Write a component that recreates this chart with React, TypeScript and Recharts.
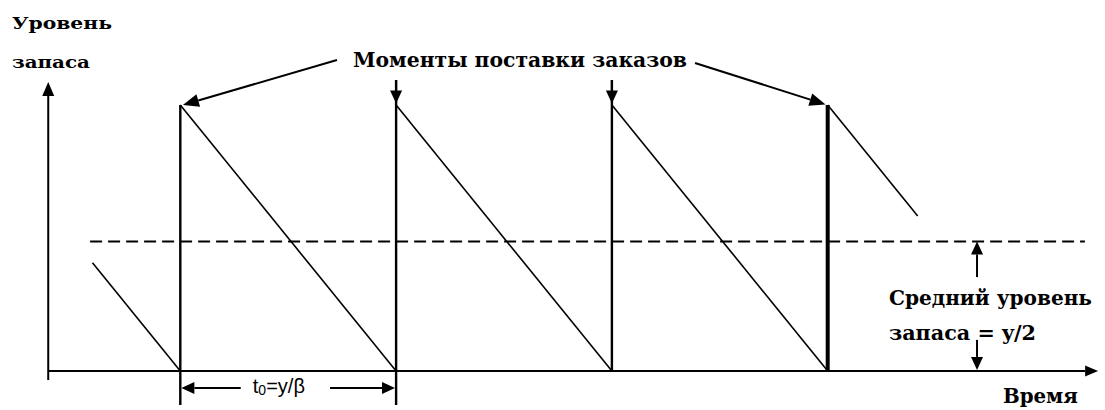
import { ComposedChart, XAxis, YAxis, Line, ReferenceLine, ReferenceDot } from 'recharts'

// time is counted in order cycles (t0 = 1), stock level as a share of the order size y
const toothStartTime = [0.593, 1, 2, 3, 4]
const toothStartLevel = [0.407, 1, 1, 1, 1]
const toothEndTime = [1, 2, 3, 4, 4.417]
const toothEndLevel = [0, 0, 0, 0, 0.583]

const deliveryTimes = [1, 2, 3, 4]
const deliveryBottom = [-0.128, -0.128, 0, 0]
const deliveryTop = [1, 1.094, 1.094, 1]

const averageLevel = 0.487
const averageFrom = 0.582
const averageTo = 5.192

// axes drawn as arrows
const axisTime = 0.388
const axisTimeEnd = 5.253
const axisLevelBottom = -0.034
const axisLevelTop = 1.086

// annotation arrows: [fromT, fromLevel, toT, toLevel]
const arrows: number[][] = [
  [1.726, 1.169, 1.012, 1.0],
  [3.385, 1.158, 3.99, 1.002],
  [2, 1.094, 2, 1.006],
  [3, 1.094, 3, 1.006],
  [4.692, 0.353, 4.692, 0.487],
  [4.692, 0.117, 4.692, 0.004],
  [1.28, -0.064, 1.005, -0.064],
  [1.694, -0.064, 1.995, -0.064],
]

const labels = ['Уровень', 'запаса', 'Моменты поставки заказов', 'Средний уровень', 'запаса = y/2', 'Время']
const labelTime = [0.22, 0.22, 1.8, 4.284, 4.284, 4.812]
const labelLevel = [1.286, 1.138, 1.143, 0.248, 0.117, -0.121]
const labelWidth = [100, 78, 334, 203, 147, 75]
const labelSize = [17, 16, 21, 20, 20, 20]

const periodLabelTime = 1.336
const periodLabelLevel = -0.084

const teeth = toothStartTime.map((t, i) => [
  { t, level: toothStartLevel[i] },
  { t: toothEndTime[i], level: toothEndLevel[i] },
])

function ArrowShape(props: any) {
  const { x1, y1, x2, y2, head = 14, half = 5.5, sw = 2 } = props
  const a = Math.atan2(y2 - y1, x2 - x1)
  const bx = x2 - head * Math.cos(a)
  const by = y2 - head * Math.sin(a)
  const px = -Math.sin(a) * half
  const py = Math.cos(a) * half
  return (
    <g>
      <line x1={x1} y1={y1} x2={bx} y2={by} stroke="#000" strokeWidth={sw} />
      <polygon points={`${x2},${y2} ${bx + px},${by + py} ${bx - px},${by - py}`} fill="#000" />
    </g>
  )
}

const serif = "'DejaVu Serif', 'Liberation Serif', serif"

export default function App() {
  return (
    <div style={{ width: 1105, height: 410, background: '#fff' }}>
      <style>{'body{margin:0}'}</style>
      <ComposedChart width={1105} height={410} margin={{ top: 0, right: 0, bottom: 0, left: 0 }}>
        <XAxis dataKey="t" type="number" domain={[0.1645, 5.285]} allowDataOverflow hide />
        <YAxis type="number" domain={[-0.1466, 1.3947]} allowDataOverflow hide />

        <ReferenceLine
          segment={[{ x: averageFrom, y: averageLevel }, { x: averageTo, y: averageLevel }]}
          stroke="#000"
          strokeWidth={2}
          strokeDasharray="12 6"
        />

        <ReferenceLine
          segment={[{ x: axisTime, y: 0 }, { x: axisTimeEnd, y: 0 }]}
          shape={(p: any) => <ArrowShape {...p} head={13} half={5.5} />}
        />
        <ReferenceLine
          segment={[{ x: axisTime, y: axisLevelBottom }, { x: axisTime, y: axisLevelTop }]}
          shape={(p: any) => <ArrowShape {...p} head={14} half={6} />}
        />

        {deliveryTimes.map((t, i) => (
          <ReferenceLine
            key={'d' + t}
            segment={[{ x: t, y: deliveryBottom[i] }, { x: t, y: deliveryTop[i] }]}
            stroke="#000"
            strokeWidth={i === deliveryTimes.length - 1 ? 4 : 2.4}
          />
        ))}

        {teeth.map((d, i) => (
          <Line
            key={'tooth' + i}
            data={d}
            dataKey="level"
            type="linear"
            stroke="#000"
            strokeWidth={1.6}
            dot={false}
            activeDot={false}
            isAnimationActive={false}
          />
        ))}

        {arrows.map((a, i) => (
          <ReferenceLine
            key={'a' + i}
            segment={[{ x: a[0], y: a[1] }, { x: a[2], y: a[3] }]}
            shape={(p: any) => <ArrowShape {...p} head={i < 2 ? 16 : 13} half={i < 2 ? 6.5 : 6} />}
          />
        ))}

        {labels.map((txt, i) => (
          <ReferenceDot
            key={'l' + i}
            x={labelTime[i]}
            y={labelLevel[i]}
            r={0}
            shape={(p: any) => (
              <text
                x={p.cx}
                y={p.cy}
                style={{ fontFamily: serif, fontWeight: 700, fontSize: labelSize[i] }}
                textLength={labelWidth[i]}
                lengthAdjust="spacingAndGlyphs"
                fill="#000"
              >
                {txt}
              </text>
            )}
          />
        ))}

        <ReferenceDot
          x={periodLabelTime}
          y={periodLabelLevel}
          r={0}
          shape={(p: any) => (
            <text x={p.cx} y={p.cy} style={{ fontFamily: "'Liberation Sans', Arial, sans-serif", fontSize: 20 }} fill="#000">
              t<tspan fontSize={14} dy={2}>0</tspan>
              <tspan dy={-2}>=y/β</tspan>
            </text>
          )}
        />
      </ComposedChart>
    </div>
  )
}
